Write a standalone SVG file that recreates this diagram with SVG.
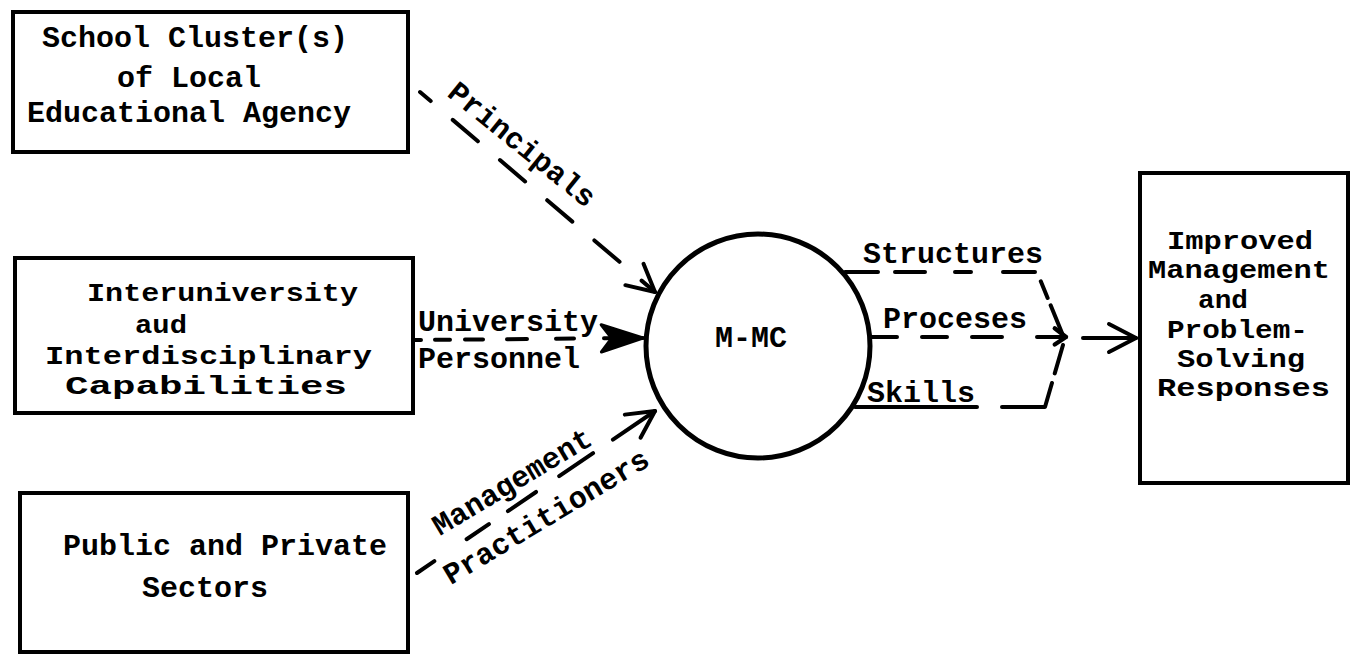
<svg xmlns="http://www.w3.org/2000/svg" width="1362" height="657" viewBox="0 0 1362 657">
  <style>
    .box { fill: #fff; stroke: #000; stroke-width: 4; }
    .hub { fill: #fff; stroke: #000; stroke-width: 5; }
    .lbl { font-family: "Liberation Mono", "DejaVu Sans Mono", monospace; font-weight: bold; font-size: 30px; fill: #000; }
    .tight { font-size: 25px; }
    .link { fill: none; stroke: #000; stroke-width: 4; stroke-linecap: round; stroke-linejoin: round; }
  </style>
  <defs>
    <marker id="open-head" markerUnits="userSpaceOnUse" markerWidth="40" markerHeight="40" viewBox="-32 -20 36 40" refX="0" refY="0" orient="auto" overflow="visible">
      <path d="M-27,-14 L0,0 L-27,14" fill="none" stroke="#000" stroke-width="4" stroke-linecap="round" stroke-linejoin="round"/>
    </marker>
    <marker id="small-head" markerUnits="userSpaceOnUse" markerWidth="20" markerHeight="20" viewBox="-12 -8 14 16" refX="0" refY="0" orient="auto" overflow="visible">
      <path d="M-9,-7 L0,0 L-9,6" fill="none" stroke="#000" stroke-width="3.5" stroke-linecap="round" stroke-linejoin="round"/>
    </marker>
    <marker id="solid-head" markerUnits="userSpaceOnUse" markerWidth="50" markerHeight="40" viewBox="-44 -18 48 36" refX="0" refY="0" orient="auto" overflow="visible">
      <path d="M-40,-13 L0,0 L-40,13 L-30,0 Z" fill="#000" stroke="#000" stroke-width="3" stroke-linejoin="round"/>
    </marker>
  </defs>

  <!-- source units -->
  <g id="node-school-clusters">
    <rect class="box" x="13" y="12" width="395" height="140"/>
    <text class="lbl" x="42" y="47">School Cluster(s)</text>
    <text class="lbl" x="117" y="87">of Local</text>
    <text class="lbl" x="27" y="122">Educational Agency</text>
  </g>

  <g id="node-interuniversity">
    <rect class="box" x="15" y="258" width="398" height="155"/>
    <text class="lbl tight" x="87" y="301" textLength="271" lengthAdjust="spacingAndGlyphs">Interuniversity</text>
    <text class="lbl tight" x="135" y="333" textLength="52" lengthAdjust="spacingAndGlyphs">aud</text>
    <text class="lbl tight" x="45" y="364" textLength="327" lengthAdjust="spacingAndGlyphs">Interdisciplinary</text>
    <text class="lbl tight" x="65" y="394" textLength="282" lengthAdjust="spacingAndGlyphs">Capabilities</text>
  </g>

  <g id="node-public-private">
    <rect class="box" x="20" y="493" width="388" height="159"/>
    <text class="lbl" x="63" y="555">Public and Private</text>
    <text class="lbl" x="142" y="597">Sectors</text>
  </g>

  <!-- central consortium -->
  <g id="node-mmc">
    <circle class="hub" cx="758" cy="346" r="112"/>
    <text class="lbl" x="715" y="347" font-size="28">M-MC</text>
  </g>

  <!-- outcome -->
  <g id="node-outcome">
    <rect class="box" x="1140" y="173" width="208" height="310" stroke-width="5"/>
    <text class="lbl tight" x="1167" y="249" textLength="146" lengthAdjust="spacingAndGlyphs">Improved</text>
    <text class="lbl tight" x="1148" y="278" textLength="182" lengthAdjust="spacingAndGlyphs">Management</text>
    <text class="lbl tight" x="1198" y="308" textLength="50" lengthAdjust="spacingAndGlyphs">and</text>
    <text class="lbl tight" x="1167" y="338" textLength="141" lengthAdjust="spacingAndGlyphs">Problem-</text>
    <text class="lbl tight" x="1177" y="367" textLength="128" lengthAdjust="spacingAndGlyphs">Solving</text>
    <text class="lbl tight" x="1157" y="396" textLength="173" lengthAdjust="spacingAndGlyphs">Responses</text>
  </g>

  <g id="connectors">
    <!-- Principals -->
    <path class="link" d="M420,92 L655,292" stroke-dasharray="33 29" stroke-dashoffset="19" marker-end="url(#open-head)"/>
    <text class="lbl" transform="translate(516,152) rotate(39)" text-anchor="middle">Principals</text>

    <!-- University Personnel -->
    <path class="link" d="M413,340 L643,338" stroke-dasharray="8 14 15 15 18 24 20 29 18 30 60" marker-end="url(#solid-head)"/>
    <text class="lbl" x="418" y="331">University</text>
    <text class="lbl" x="418" y="368">Personnel</text>

    <!-- Management Practitioners -->
    <path class="link" d="M417,573 L655,411" stroke-dasharray="21 39 27 23 34 28 41 24 60" marker-end="url(#open-head)"/>
    <text class="lbl" transform="translate(517,490) rotate(-31)" text-anchor="middle">Management</text>
    <text class="lbl" transform="translate(551,525) rotate(-31)" text-anchor="middle">Practitioners</text>

    <!-- outputs of M-MC -->
    <path class="link" d="M845,272 L1037,272 L1062,333" stroke-dasharray="33 17 30 30 16 32 32 12 18 8 30"/>
    <text class="lbl" x="863" y="263">Structures</text>

    <path class="link" d="M872,337 L1066,337" stroke-dasharray="25 25 25 25 30 35 40" marker-end="url(#small-head)"/>
    <text class="lbl" x="883" y="328">Proceses</text>

    <path class="link" d="M855,407 L1045,407 L1063,345" stroke-dasharray="122 25 68 10 30"/>
    <text class="lbl" x="867" y="402">Skills</text>

    <path class="link" d="M1083,338 L1136,338" marker-end="url(#open-head)"/>
  </g>
</svg>
